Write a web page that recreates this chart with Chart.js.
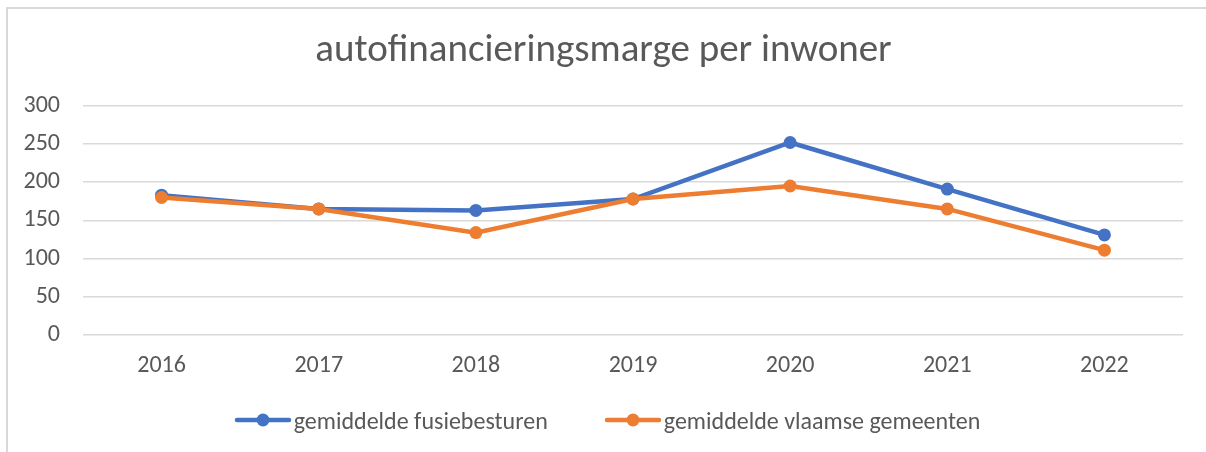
<!DOCTYPE html>
<html>
<head>
<meta charset="utf-8">
<script src="https://cdn.jsdelivr.net/npm/chart.js@4/dist/chart.umd.min.js"></script>
<style>
  html, body { margin: 0; padding: 0; background: #fff; }
  #wrap { position: relative; width: 1206px; height: 452px; }
  #frame { position: absolute; left: 6px; top: 7px; right: 0; bottom: 0;
           border-left: 2px solid #d9d9d9; border-top: 2px solid #d9d9d9; }
  canvas { position: absolute; left: 0; top: 0; }
  #legend { position: absolute; left: 0; width: 1214px; top: 405px; height: 30px;
            display: flex; justify-content: center; align-items: center;
            font-family: Carlito, "Open Sans", sans-serif; font-size: 24px; color: #595959; }
  #legend .item { display: flex; align-items: center; margin: 0 28px; white-space: nowrap; }
  #legend canvas { position: static; margin-right: 2px; }
</style>
</head>
<body>
<div id="wrap">
  <div id="frame"></div>
  <canvas id="lineChart" width="1206" height="452"></canvas>
  <div id="legend"></div>
</div>
<script>
// data
let years = ['2016', '2017', '2018', '2019', '2020', '2021', '2022'];
let fusieArr = [183, 165, 163, 178, 252, 191, 131];
let vlaamsArr = [180, 165, 134, 178, 195, 165, 111];
let seriesNames = ['gemiddelde fusiebesturen', 'gemiddelde vlaamse gemeenten'];

const blue = '#4472C4';
const orange = '#ED7D31';
const grey = '#595959';
const fontFam = 'Carlito, "Open Sans", sans-serif';

// legend marker: line with a dot in the middle
function legendMarker(color) {
  let c = document.createElement('canvas');
  c.width = 58;
  c.height = 16;
  let ctx = c.getContext('2d');
  ctx.strokeStyle = color;
  ctx.lineWidth = 4.5;
  ctx.lineCap = 'round';
  ctx.beginPath();
  ctx.moveTo(3, 8);
  ctx.lineTo(55, 8);
  ctx.stroke();
  ctx.fillStyle = color;
  ctx.beginPath();
  ctx.arc(29, 8, 6.5, 0, Math.PI * 2);
  ctx.fill();
  return c;
}

// html legend built from the chart datasets
const htmlLegend = {
  id: 'htmlLegend',
  afterUpdate(chart) {
    const box = document.getElementById('legend');
    box.innerHTML = '';
    chart.data.datasets.forEach(ds => {
      const item = document.createElement('div');
      item.className = 'item';
      item.appendChild(legendMarker(ds.borderColor));
      const txt = document.createElement('span');
      txt.textContent = ds.label;
      item.appendChild(txt);
      box.appendChild(item);
    });
  }
};

const lineChartdata = {
  labels: years,
  datasets: [{
    label: seriesNames[0],
    data: fusieArr,
    borderColor: blue,
    backgroundColor: blue,
    borderWidth: 4.5,
    pointRadius: 6.5,
    pointBorderWidth: 0,
    pointHoverRadius: 6.5,
    tension: 0,
    order: 1
  },
  {
    label: seriesNames[1],
    data: vlaamsArr,
    borderColor: orange,
    backgroundColor: orange,
    borderWidth: 4.5,
    pointRadius: 6.5,
    pointBorderWidth: 0,
    pointHoverRadius: 6.5,
    tension: 0,
    order: 0
  }]
};

const configLineChart = {
  type: 'line',
  data: lineChartdata,
  plugins: [htmlLegend],
  options: {
    responsive: false,
    animation: false,
    layout: { padding: { left: 24, right: 23, top: 0, bottom: 70 } },
    plugins: {
      title: {
        display: true,
        text: 'autofinancieringsmarge per inwoner',
        color: grey,
        font: { family: fontFam, size: 39, weight: 'normal', lineHeight: 1.2 },
        padding: { top: 28, bottom: 31 }
      },
      legend: { display: false },
      tooltip: { enabled: false }
    },
    scales: {
      x: {
        offset: true,
        grid: { display: false, drawTicks: false },
        border: { display: false },
        ticks: { color: grey, font: { family: fontFam, size: 24 }, padding: 17 },
        afterFit: function (scale) { scale.height = 47; }
      },
      y: {
        min: 0,
        max: 300,
        ticks: { stepSize: 50, color: grey, font: { family: fontFam, size: 24 }, padding: 23 },
        grid: { color: '#d9d9d9', lineWidth: 1.5, drawTicks: false },
        border: { display: false },
        afterFit: function (scale) { scale.width = 59; }
      }
    }
  }
};

let lineChart = new Chart(
  document.getElementById('lineChart'),
  configLineChart
);
</script>
</body>
</html>
